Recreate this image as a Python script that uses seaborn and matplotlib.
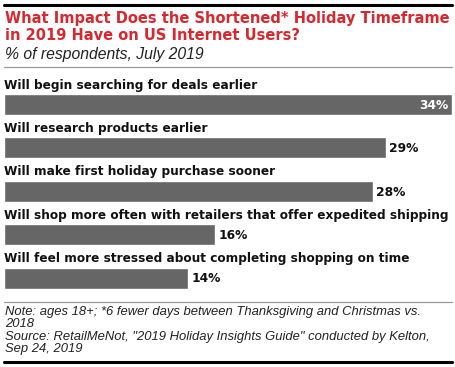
import matplotlib
matplotlib.use("Agg")
import matplotlib.pyplot as plt
import seaborn as sns
import pandas as pd
from matplotlib.lines import Line2D

# data
answers = [
    "Will begin searching for deals earlier",
    "Will research products earlier",
    "Will make first holiday purchase sooner",
    "Will shop more often with retailers that offer expedited shipping",
    "Will feel more stressed about completing shopping on time",
]
pct = [34, 29, 28, 16, 14]

title = "What Impact Does the Shortened* Holiday Timeframe\nin 2019 Have on US Internet Users?"
subtitle = "% of respondents, July 2019"
note = ("Note: ages 18+; *6 fewer days between Thanksgiving and Christmas vs.\n2018\n"
        "Source: RetailMeNot, \"2019 Holiday Insights Guide\" conducted by Kelton,\nSep 24, 2019")

df = pd.DataFrame({"answer": answers, "pct": pct})

sns.set_theme(style="white")
plt.rcParams['font.family'] = ['Liberation Sans', 'DejaVu Sans']
bold_font = ['DejaVu Sans']

W, H = 456, 367
fig = plt.figure(figsize=(W / 100, H / 100), dpi=100)

def fx(px):
    return px / W

def fy(py):
    return 1 - py / H

# bars area
pitch = 43.4
top = 104.5 - pitch / 2
bottom = top + pitch * 5
ax = fig.add_axes([fx(4), fy(bottom), fx(452) - fx(4), (bottom - top) / H])
bar_h = 21 / pitch
sns.barplot(data=df, x="pct", y="answer", orient="h", color="#666666",
            saturation=1, width=bar_h, ax=ax)
ax.set_xlim(0, 34)
ax.set_ylim(4.5, -0.5)
ax.axis("off")

for i, (lab, v) in enumerate(zip(answers, pct)):
    ax.text(0.01, i - bar_h / 2 - 2.5 / pitch, lab, ha="left", va="bottom",
            fontsize=8.7, fontweight="bold", color="#111111", family=bold_font)
    if i == 0:
        ax.text(v - 0.3, i + 0.02, f"{v}%", ha="right", va="center",
                fontsize=8.8, fontweight="bold", color="white", family=bold_font)
    else:
        ax.text(v + 0.25, i + 0.02, f"{v}%", ha="left", va="center",
                fontsize=8.8, fontweight="bold", color="#111111", family=bold_font)

# header
fig.add_artist(Line2D([fx(4), fx(452)], [fy(5), fy(5)], color="black", lw=2.2))
fig.text(fx(5), fy(11), title, ha="left", va="top", fontsize=10.5,
         fontweight="bold", color="#d7282f", linespacing=1.15, family=bold_font)
fig.text(fx(5), fy(47), subtitle, ha="left", va="top", fontsize=11.3,
         style="italic", color="#222222")
fig.add_artist(Line2D([fx(4), fx(452)], [fy(67), fy(67)], color="#999999", lw=0.9))

# footer
fig.add_artist(Line2D([fx(4), fx(452)], [fy(302), fy(302)], color="#999999", lw=0.9))
fig.text(fx(5), fy(306), note, ha="left", va="top", fontsize=9.4,
         style="italic", color="#222222", linespacing=1.03)
fig.add_artist(Line2D([fx(4), fx(452)], [fy(362), fy(362)], color="black", lw=2.2))

fig.savefig("out.png", dpi=100)
